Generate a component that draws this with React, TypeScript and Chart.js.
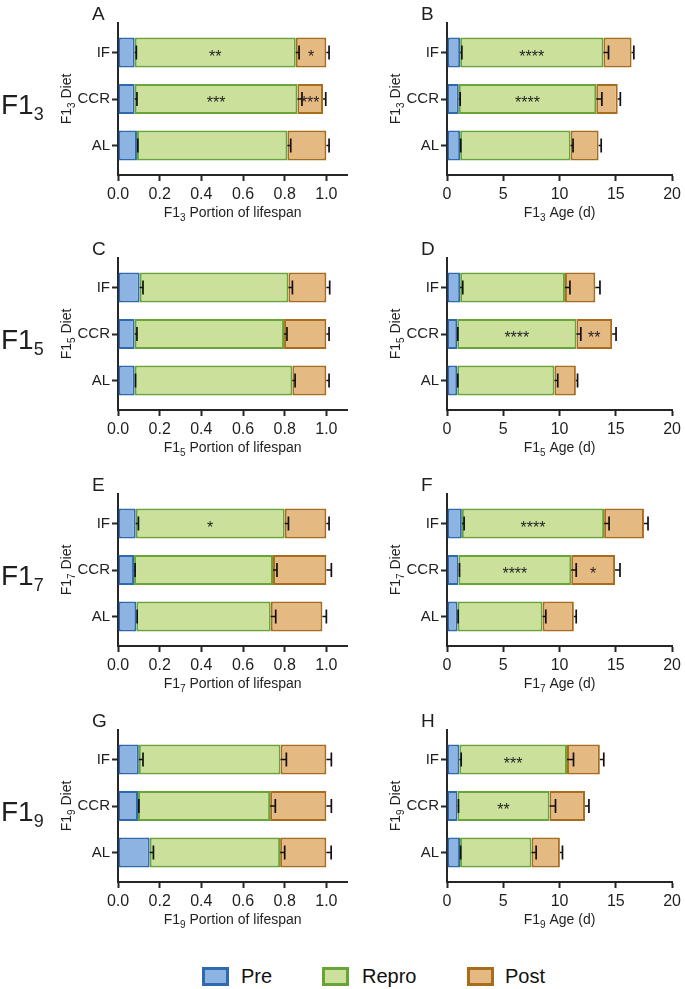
import React, { useEffect, useRef } from 'react';
import { Chart, registerables } from 'chart.js';

Chart.register(...registerables);

const FONT = '"Liberation Sans", Arial, Helvetica, sans-serif';
const INK = '#1f1f1f';
const AXIS = '#262626';

const categories = ['IF', 'CCR', 'AL'];
const generations = ['3', '5', '7', '9'];
const portionTicks = [0, 0.2, 0.4, 0.6, 0.8, 1.0];
const ageTicks = [0, 5, 10, 15, 20];
const seriesNames = ['Pre', 'Repro', 'Post'];

const PRE_FILL = '#8db3e2';
const PRE_LINE = '#2e6aae';
const REPRO_FILL = '#cbe19b';
const REPRO_LINE = '#69a437';
const POST_FILL = '#e5b982';
const POST_LINE = '#a86d1c';

// Panel A: F1_3 portion of lifespan
const aPre = [0.08, 0.08, 0.091];
const aRepro = [0.773, 0.781, 0.722];
const aPost = [0.147, 0.123, 0.187];
const aPreErr = [0.008, 0.011, 0.004];
const aReproErr = [0.016, 0.022, 0.016];
const aPostErr = [0.013, 0.013, 0.013];
const aReproStars = ['**', '***', ''];
const aPostStars = ['*', '***', ''];

// Panel B: F1_3 age (d)
const bPre = [1.17, 1.05, 1.17];
const bRepro = [12.73, 12.21, 9.81];
const bPost = [2.5, 1.91, 2.49];
const bPreErr = [0.15, 0.12, 0.05];
const bReproErr = [0.45, 0.5, 0.22];
const bPostErr = [0.2, 0.23, 0.23];
const bReproStars = ['****', '****', ''];
const bPostStars = ['', '', ''];

// Panel C: F1_5 portion of lifespan
const cPre = [0.104, 0.08, 0.08];
const cRepro = [0.714, 0.717, 0.757];
const cPost = [0.182, 0.203, 0.163];
const cPreErr = [0.016, 0.011, 0.004];
const cReproErr = [0.019, 0.014, 0.013];
const cPostErr = [0.016, 0.013, 0.013];
const cReproStars = ['', '', ''];
const cPostStars = ['', '', ''];

// Panel D: F1_5 age (d)
const dPre = [1.17, 0.91, 0.91];
const dRepro = [9.31, 10.59, 8.64];
const dPost = [2.7, 3.17, 1.9];
const dPreErr = [0.23, 0.05, 0.05];
const dReproErr = [0.44, 0.39, 0.29];
const dPostErr = [0.41, 0.35, 0.15];
const dReproStars = ['', '****', ''];
const dPostStars = ['', '**', ''];

// Panel E: F1_7 portion of lifespan
const ePre = [0.085, 0.077, 0.088];
const eRepro = [0.715, 0.667, 0.645];
const ePost = [0.2, 0.256, 0.248];
const ePreErr = [0.013, 0.005, 0.004];
const eReproErr = [0.018, 0.019, 0.024];
const ePostErr = [0.013, 0.024, 0.019];
const eReproStars = ['*', '', ''];
const ePostStars = ['', '', ''];

// Panel F: F1_7 age (d)
const fPre = [1.32, 1.02, 0.94];
const fRepro = [12.64, 10.02, 7.55];
const fPost = [3.54, 3.89, 2.78];
const fPreErr = [0.2, 0.09, 0.05];
const fReproErr = [0.44, 0.44, 0.29];
const fPostErr = [0.36, 0.44, 0.21];
const fReproStars = ['****', '****', ''];
const fPostStars = ['', '*', ''];

// Panel G: F1_9 portion of lifespan
const gPre = [0.1, 0.096, 0.152];
const gRepro = [0.68, 0.634, 0.626];
const gPost = [0.22, 0.27, 0.222];
const gPreErr = [0.02, 0.004, 0.018];
const gReproErr = [0.028, 0.025, 0.022];
const gPostErr = [0.024, 0.024, 0.023];
const gReproStars = ['', '', ''];
const gPostStars = ['', '', ''];

// Panel H: F1_9 age (d)
const hPre = [1.1, 0.93, 1.16];
const hRepro = [9.56, 8.18, 6.35];
const hPost = [2.92, 3.15, 2.52];
const hPreErr = [0.16, 0.09, 0.05];
const hReproErr = [0.58, 0.53, 0.41];
const hPostErr = [0.35, 0.35, 0.23];
const hReproStars = ['***', '**', ''];
const hPostStars = ['', '', ''];

type PanelSpec = {
  letter: string;
  row: number;
  col: number;
  kind: 'portion' | 'age';
  pre: number[];
  repro: number[];
  post: number[];
  preErr: number[];
  reproErr: number[];
  postErr: number[];
  reproStars: string[];
  postStars: string[];
};

const panels: PanelSpec[] = [
  { letter: 'A', row: 0, col: 0, kind: 'portion', pre: aPre, repro: aRepro, post: aPost, preErr: aPreErr, reproErr: aReproErr, postErr: aPostErr, reproStars: aReproStars, postStars: aPostStars },
  { letter: 'B', row: 0, col: 1, kind: 'age', pre: bPre, repro: bRepro, post: bPost, preErr: bPreErr, reproErr: bReproErr, postErr: bPostErr, reproStars: bReproStars, postStars: bPostStars },
  { letter: 'C', row: 1, col: 0, kind: 'portion', pre: cPre, repro: cRepro, post: cPost, preErr: cPreErr, reproErr: cReproErr, postErr: cPostErr, reproStars: cReproStars, postStars: cPostStars },
  { letter: 'D', row: 1, col: 1, kind: 'age', pre: dPre, repro: dRepro, post: dPost, preErr: dPreErr, reproErr: dReproErr, postErr: dPostErr, reproStars: dReproStars, postStars: dPostStars },
  { letter: 'E', row: 2, col: 0, kind: 'portion', pre: ePre, repro: eRepro, post: ePost, preErr: ePreErr, reproErr: eReproErr, postErr: ePostErr, reproStars: eReproStars, postStars: ePostStars },
  { letter: 'F', row: 2, col: 1, kind: 'age', pre: fPre, repro: fRepro, post: fPost, preErr: fPreErr, reproErr: fReproErr, postErr: fPostErr, reproStars: fReproStars, postStars: fPostStars },
  { letter: 'G', row: 3, col: 0, kind: 'portion', pre: gPre, repro: gRepro, post: gPost, preErr: gPreErr, reproErr: gReproErr, postErr: gPostErr, reproStars: gReproStars, postStars: gPostStars },
  { letter: 'H', row: 3, col: 1, kind: 'age', pre: hPre, repro: hRepro, post: hPost, preErr: hPreErr, reproErr: hReproErr, postErr: hPostErr, reproStars: hReproStars, postStars: hPostStars },
];

const ROW_TOPS = [0, 235, 471, 707];
const CANVAS_H = 232;
const COL_GEOM = [
  { left: 0, width: 352, yWidth: 118, padRight: 4.8 },
  { left: 345, width: 340, yWidth: 102, padRight: 8 },
];

function drawSubLabel(
  ctx: CanvasRenderingContext2D,
  pre: string,
  sub: string,
  post: string,
  cx: number,
  baseline: number,
  size: number,
  subSize: number,
  drop: number
) {
  ctx.font = `${size}px ${FONT}`;
  const w1 = ctx.measureText(pre).width;
  const w3 = ctx.measureText(post).width;
  ctx.font = `${subSize}px ${FONT}`;
  const w2 = ctx.measureText(sub).width;
  const start = cx - (w1 + w2 + w3) / 2;
  ctx.textAlign = 'left';
  ctx.textBaseline = 'alphabetic';
  ctx.font = `${size}px ${FONT}`;
  ctx.fillText(pre, start, baseline);
  ctx.font = `${subSize}px ${FONT}`;
  ctx.fillText(sub, start + w1, baseline + drop);
  ctx.font = `${size}px ${FONT}`;
  ctx.fillText(post, start + w1 + w2, baseline);
}

const errorBarPlugin = {
  id: 'errBars',
  afterDatasetsDraw(chart: any) {
    const ctx = chart.ctx as CanvasRenderingContext2D;
    const xs = chart.scales.x;
    ctx.save();
    ctx.strokeStyle = '#111';
    ctx.lineWidth = 1.7;
    const cum = categories.map(() => 0);
    chart.data.datasets.forEach((ds: any, i: number) => {
      const meta = chart.getDatasetMeta(i);
      meta.data.forEach((bar: any, j: number) => {
        cum[j] += ds.data[j].x;
        const err = ds.errors[j];
        const x0 = xs.getPixelForValue(cum[j]);
        const x1 = xs.getPixelForValue(cum[j] + err);
        const y = bar.y;
        ctx.beginPath();
        ctx.moveTo(x0, y);
        ctx.lineTo(x1, y);
        ctx.moveTo(x1, y - 7);
        ctx.lineTo(x1, y + 7);
        ctx.stroke();
      });
    });
    // significance stars
    ctx.fillStyle = INK;
    ctx.font = `16px ${FONT}`;
    ctx.textAlign = 'center';
    ctx.textBaseline = 'alphabetic';
    chart.data.datasets.forEach((ds: any, i: number) => {
      const meta = chart.getDatasetMeta(i);
      meta.data.forEach((bar: any, j: number) => {
        const s = ds.stars ? ds.stars[j] : '';
        if (!s) return;
        ctx.fillText(s, (bar.base + bar.x) / 2, bar.y + 9);
      });
    });
    ctx.restore();
  },
};

const decorPlugin = {
  id: 'decor',
  afterDraw(chart: any, _args: any, opts: any) {
    const ctx = chart.ctx as CanvasRenderingContext2D;
    const a = chart.chartArea;
    ctx.save();
    ctx.fillStyle = INK;
    ctx.font = `19px ${FONT}`;
    ctx.textAlign = 'left';
    ctx.textBaseline = 'alphabetic';
    ctx.fillText(opts.letter, a.left - 26, a.top - 3);
    drawSubLabel(
      ctx,
      'F1',
      opts.gen,
      opts.kind === 'portion' ? ' Portion of lifespan' : ' Age (d)',
      (a.left + a.right) / 2,
      a.bottom + 42,
      14,
      10,
      4
    );
    if (opts.rowLabel) {
      ctx.font = `28px ${FONT}`;
      ctx.textAlign = 'left';
      ctx.fillText('F1', 1, a.top + 91);
      const w = ctx.measureText('F1').width;
      ctx.font = `18px ${FONT}`;
      ctx.fillText(opts.gen, 1 + w, a.top + 97);
    }
    ctx.translate(a.left - 52, (a.top + a.bottom) / 2);
    ctx.rotate(-Math.PI / 2);
    drawSubLabel(ctx, 'F1', opts.gen, ' Diet', 0, 5, 14, 10, 4);
    ctx.restore();
  },
};

function PanelChart({ spec }: { spec: PanelSpec }) {
  const ref = useRef<HTMLCanvasElement | null>(null);
  const geom = COL_GEOM[spec.col];
  const top = ROW_TOPS[spec.row];

  useEffect(() => {
    if (!ref.current) return;
    const isPortion = spec.kind === 'portion';
    const xTicks = isPortion ? portionTicks : ageTicks;
    const mk = (vals: number[]) => vals.map((v, i) => ({ x: v, y: i }));
    const datasets: any[] = [
      { label: seriesNames[0], data: mk(spec.pre), backgroundColor: PRE_FILL, borderColor: PRE_LINE, errors: spec.preErr, stars: [] },
      { label: seriesNames[1], data: mk(spec.repro), backgroundColor: REPRO_FILL, borderColor: REPRO_LINE, errors: spec.reproErr, stars: spec.reproStars },
      { label: seriesNames[2], data: mk(spec.post), backgroundColor: POST_FILL, borderColor: POST_LINE, errors: spec.postErr, stars: spec.postStars },
    ].map((d) => ({ ...d, borderWidth: 2, borderSkipped: false, categoryPercentage: 1, barPercentage: 0.65 }));

    const chart = new Chart(ref.current, {
      type: 'bar',
      data: { datasets },
      plugins: [errorBarPlugin, decorPlugin],
      options: {
        indexAxis: 'y',
        animation: false,
        responsive: false,
        maintainAspectRatio: false,
        layout: { padding: { top: 23, right: geom.padRight, bottom: 0, left: 0 } },
        plugins: {
          legend: { display: false },
          tooltip: { enabled: false },
          decor: { letter: spec.letter, gen: generations[spec.row], kind: spec.kind, rowLabel: spec.col === 0 },
        } as any,
        scales: {
          x: {
            type: 'linear',
            stacked: true,
            offset: false,
            min: 0,
            max: isPortion ? 1.1 : 20,
            afterBuildTicks: (s: any) => {
              s.ticks = xTicks.map((v) => ({ value: v }));
            },
            afterFit: (s: any) => {
              s.height = 57;
            },
            ticks: {
              padding: 4,
              color: INK,
              font: { family: FONT, size: 16 },
              maxRotation: 0,
              autoSkip: false,
              callback: (v: any) => (isPortion ? Number(v).toFixed(1) : String(v)),
            },
            grid: { offset: false, drawOnChartArea: false, drawTicks: true, tickLength: 6, tickWidth: 2, tickColor: AXIS },
            border: { display: true, color: AXIS, width: 2 },
          },
          y: {
            type: 'linear',
            stacked: true,
            offset: false,
            reverse: true,
            min: -0.635,
            max: 2.635,
            afterBuildTicks: (s: any) => {
              s.ticks = categories.map((_, i) => ({ value: i }));
            },
            afterFit: (s: any) => {
              s.width = geom.yWidth;
            },
            ticks: {
              padding: 2,
              color: INK,
              font: { family: FONT, size: 15 },
              autoSkip: false,
              callback: (v: any) => categories[Math.round(Number(v))] ?? '',
            },
            grid: { offset: false, drawOnChartArea: false, drawTicks: true, tickLength: 6, tickWidth: 2, tickColor: AXIS },
            border: { display: true, color: AXIS, width: 2 },
          },
        },
      } as any,
    });
    return () => chart.destroy();
  }, [spec]);

  return (
    <canvas
      ref={ref}
      width={geom.width}
      height={CANVAS_H}
      style={{ position: 'absolute', left: geom.left, top, width: geom.width, height: CANVAS_H }}
    />
  );
}

const legendItems = [
  { name: seriesNames[0], fill: PRE_FILL, line: PRE_LINE, boxLeft: 202, textLeft: 241 },
  { name: seriesNames[1], fill: REPRO_FILL, line: REPRO_LINE, boxLeft: 322, textLeft: 362 },
  { name: seriesNames[2], fill: POST_FILL, line: POST_LINE, boxLeft: 467, textLeft: 505 },
];

export default function App() {
  return (
    <div
      style={{
        position: 'fixed',
        left: 0,
        top: 0,
        width: 685,
        height: 989,
        background: '#ffffff',
        overflow: 'hidden',
        fontFamily: FONT,
      }}
    >
      {panels.map((p) => (
        <PanelChart key={p.letter} spec={p} />
      ))}
      {legendItems.map((it) => (
        <React.Fragment key={it.name}>
          <div
            style={{
              position: 'absolute',
              left: it.boxLeft,
              top: 967,
              width: 27,
              height: 19,
              boxSizing: 'border-box',
              background: it.fill,
              border: `3px solid ${it.line}`,
            }}
          />
          <div
            style={{
              position: 'absolute',
              left: it.textLeft,
              top: 964,
              height: 24,
              lineHeight: '24px',
              fontSize: 20,
              color: '#111',
            }}
          >
            {it.name}
          </div>
        </React.Fragment>
      ))}
    </div>
  );
}
